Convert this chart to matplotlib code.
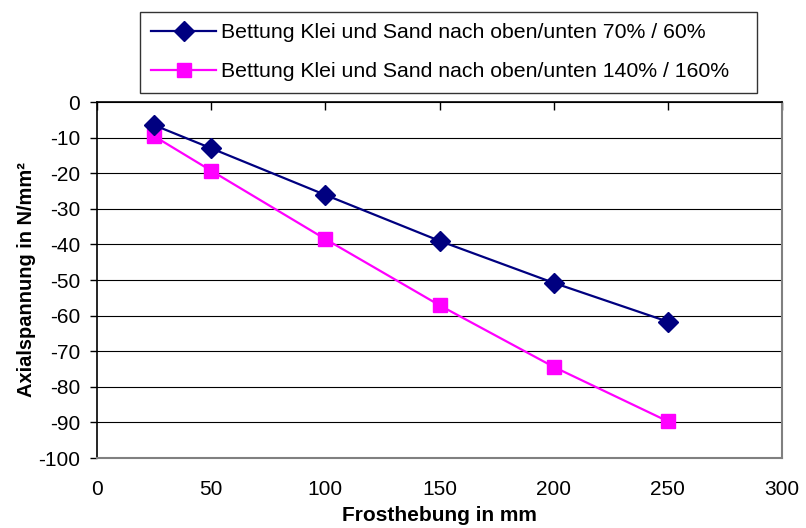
import matplotlib
matplotlib.use("Agg")
import matplotlib.pyplot as plt

plt.rcParams['font.family'] = ['Liberation Sans', 'DejaVu Sans']

frost_mm = [25, 50, 100, 150, 200, 250]
stress_70_60 = [-6.5, -13.0, -26.1, -39.0, -50.8, -61.7]
stress_140_160 = [-9.6, -19.3, -38.5, -57.1, -74.4, -89.7]
label_70_60 = "Bettung Klei und Sand nach oben/unten 70% / 60%"
label_140_160 = "Bettung Klei und Sand nach oben/unten 140% / 160%"
x_ticks = [0, 50, 100, 150, 200, 250, 300]
y_ticks = [0, -10, -20, -30, -40, -50, -60, -70, -80, -90, -100]

fig = plt.figure(figsize=(8.06, 5.28), dpi=100)
ax = fig.add_axes([97 / 806, 1 - 458 / 528, 685 / 806, 356 / 528])

navy = "#000080"
magenta = "#FF00FF"

ax.plot(frost_mm, stress_70_60, color=navy, lw=1.6, marker="D", ms=10.5,
        markerfacecolor=navy, markeredgecolor=navy, label=label_70_60, zorder=4)
ax.plot(frost_mm, stress_140_160, color=magenta, lw=1.6, marker="s", ms=10.5,
        markerfacecolor=magenta, markeredgecolor=magenta, label=label_140_160, zorder=3)

ax.set_xlim(0, 300)
ax.set_ylim(-100, 0)
ax.set_xticks(x_ticks)
ax.set_yticks(y_ticks)
ax.set_yticklabels([str(v) for v in y_ticks])

ax.yaxis.grid(True, color="black", lw=0.8)
ax.set_axisbelow(True)

for side in ("right", "bottom"):
    ax.spines[side].set_color("#808080")
    ax.spines[side].set_linewidth(1.5)
ax.spines["left"].set_color("black")
ax.spines["top"].set_color("black")
ax.spines["left"].set_linewidth(1.2)
ax.spines["top"].set_linewidth(1.2)

# category axis crosses at y=0: ticks sit on the top line, labels below the plot
ax.tick_params(axis="x", which="both", top=True, bottom=False, direction="in",
               length=6, width=1, labelsize=15, pad=16, color="black")
ax.tick_params(axis="y", direction="out", length=5, width=1, labelsize=15, pad=7)

ax.set_xlabel("Frosthebung in mm", fontsize=15, fontweight="bold", labelpad=5)
ax.set_ylabel("Axialspannung in N/mm²", fontsize=14.4, fontweight="bold", labelpad=2)

leg = fig.legend(loc="upper left",
                 bbox_to_anchor=(140 / 806, 1 - 92 / 528, 617 / 806, 80 / 528),
                 mode="expand", frameon=True, fancybox=False, edgecolor="black",
                 fontsize=15.3, handlelength=3.05, borderpad=0.53,
                 labelspacing=0.95, handletextpad=0.25, borderaxespad=0)
leg.get_frame().set_linewidth(1)

fig.savefig("out.png", dpi=100, facecolor="white")
